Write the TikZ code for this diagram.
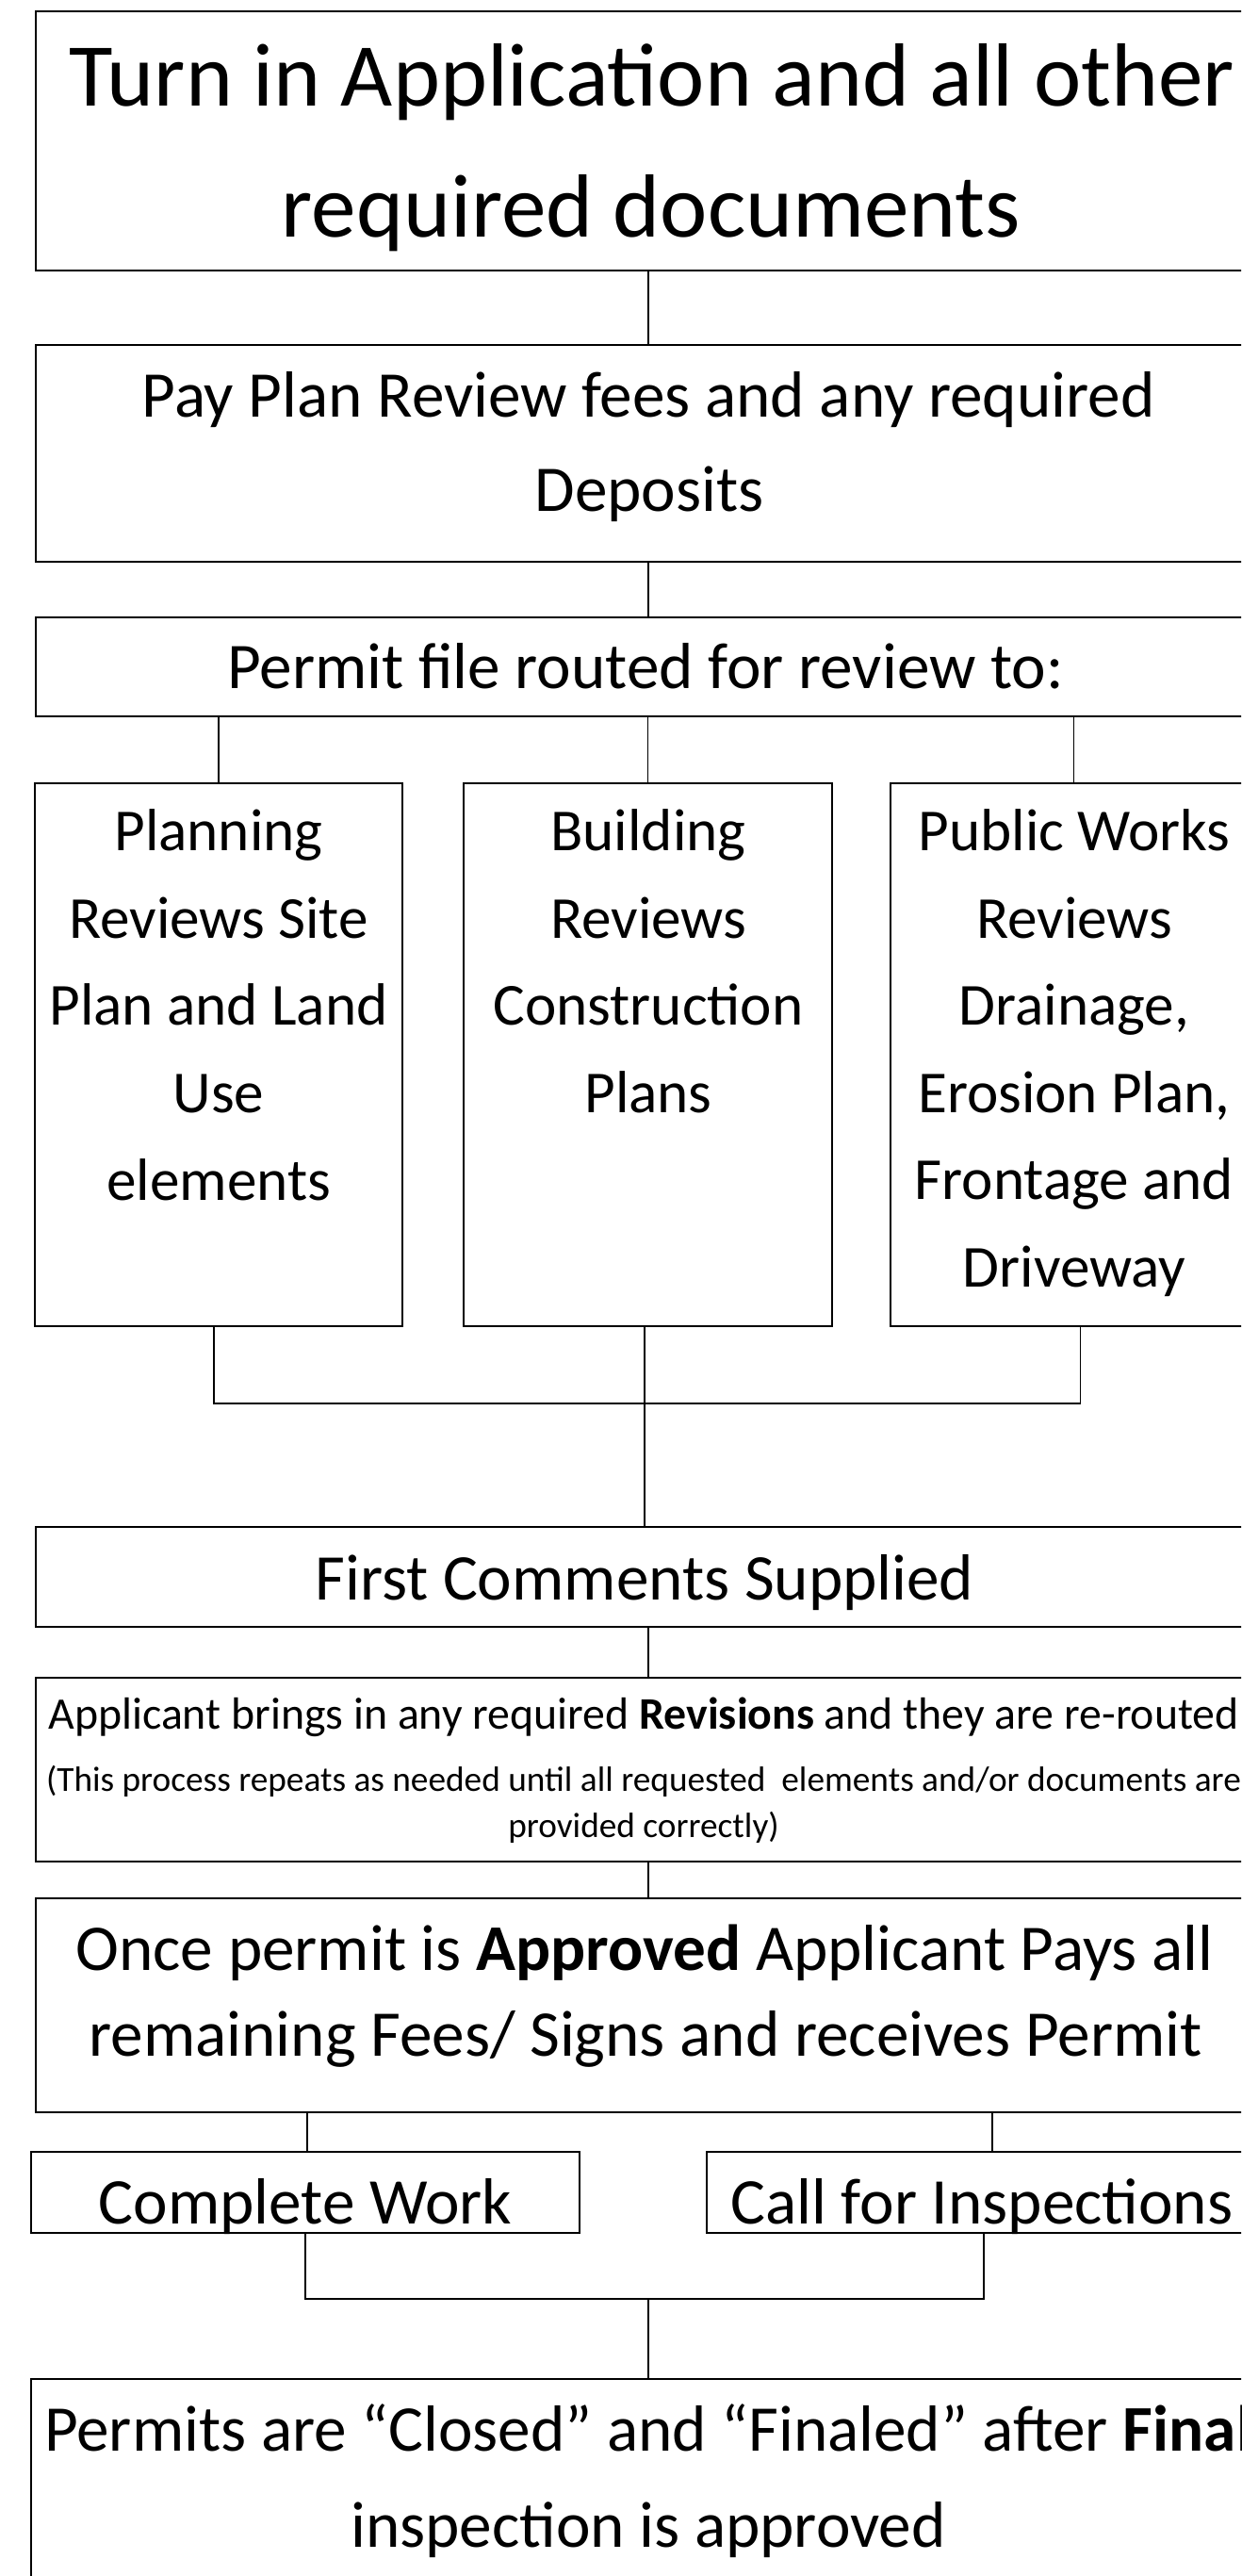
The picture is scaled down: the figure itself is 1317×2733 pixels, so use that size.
\documentclass[tikz,border=0pt]{standalone}
\usepackage{fontspec}
\setmainfont{Carlito}
\newcommand\flowbox[5]{%
  \node[fbox, minimum width={(#4-#2)*0.5pt}, minimum height={(#5-#3)*0.5pt}] (#1) at ({(#2+#4)/2},{(#3+#5)/2}) {};}
\begin{document}
\begin{tikzpicture}[x=0.5pt,y=-0.5pt,
  fbox/.style={draw, rectangle, line width=1.1pt, inner sep=0pt},
  conn/.style={line width=0.6pt},
  lbl/.style={inner sep=0pt, anchor=base},
  fhuge/.style={font=\fontsize{47.6}{58}\selectfont},
  fbig/.style={font=\fontsize{34.6}{41}\selectfont},
  fmid/.style={font=\fontsize{31.6}{38}\selectfont},
  fsmall/.style={font=\fontsize{23.9}{28}\selectfont},
  ftiny/.style={font=\fontsize{18.65}{22}\selectfont}]
\useasboundingbox (0,0) rectangle (1317,2733);
\fill[white] (0,0) rectangle (1317,2733);
\clip (0,0) rectangle (1317,2733);
% boxes
\flowbox{b1}{38}{12}{1338}{287}
\flowbox{b2}{38}{366}{1338}{596}
\flowbox{b3}{38}{655}{1338}{760}
\flowbox{bA}{37}{831}{427}{1407}
\flowbox{bB}{492}{831}{883}{1407}
\flowbox{bC}{945}{831}{1338}{1407}
\flowbox{bF}{38}{1620}{1338}{1726}
\flowbox{bR}{38}{1780}{1338}{1975}
\flowbox{bO}{38}{2014}{1338}{2241}
\flowbox{bW}{33}{2283}{615}{2369}
\flowbox{bI}{750}{2283}{1338}{2369}
\flowbox{bZ}{33}{2524}{1338}{2850}
\coordinate (j1) at (684,1489);
\coordinate (j2) at (688,2439);
% texts
\node[lbl,fhuge] (t1a) at (692,113) {Turn in Application and all other};
\node[lbl,fhuge] (t1b) at (691,251.5) {required documents};
\node[lbl,fbig] (t2a) at (688,443) {Pay Plan Review fees and any required};
\node[lbl,fbig] (t2b) at (689,543) {Deposits};
\node[lbl,fbig] (t3) at (685,730) {Permit file routed for review to:};
\node[lbl,fmid] (tA1) at (232,902) {Planning};
\node[lbl,fmid] (tA2) at (232,995) {Reviews Site};
\node[lbl,fmid] (tA3) at (232,1087) {Plan and Land};
\node[lbl,fmid] (tA4) at (232,1180) {Use};
\node[lbl,fmid] (tA5) at (232,1273) {elements};
\node[lbl,fmid] (tB1) at (688,902) {Building};
\node[lbl,fmid] (tB2) at (688,995) {Reviews};
\node[lbl,fmid] (tB3) at (688,1087) {Construction};
\node[lbl,fmid] (tB4) at (688,1180) {Plans};
\node[lbl,fmid] (tC1) at (1140,902) {Public Works};
\node[lbl,fmid] (tC2) at (1140,995) {Reviews};
\node[lbl,fmid] (tC3) at (1140,1087) {Drainage,};
\node[lbl,fmid] (tC4) at (1140,1180) {Erosion Plan,};
\node[lbl,fmid] (tC5) at (1140,1272) {Frontage and};
\node[lbl,fmid] (tC6) at (1140,1365) {Driveway};
\node[lbl,fbig] (tF) at (684,1697) {First Comments Supplied};
\node[lbl,fsmall] (tR1) at (683,1834) {Applicant brings in any required \textbf{Revisions} and they are re-routed};
\node[lbl,ftiny] (tR2) at (683,1900) {(This process repeats as needed until all requested~ elements and/or documents are};
\node[lbl,ftiny] (tR3) at (683,1949) {provided correctly)};
\node[lbl,fbig] (tO1) at (684,2090) {Once permit is \textbf{Approved} Applicant Pays all};
\node[lbl,fbig] (tO2) at (685,2181) {remaining Fees/ Signs and receives Permit};
\node[lbl,fbig] (tW) at (324,2359) {Complete Work};
\node[lbl,fbig] (tI) at (1042,2359) {Call for Inspections};
\node[lbl,fbig] (tZ1) at (688,2600) {Permits are “Closed” and “Finaled” after \textbf{Final}};
\node[lbl,fbig] (tZ2) at (688,2702) {inspection is approved};
% connectors
\draw[conn] (b1.south) -- (b2.north);
\draw[conn] (b2.south) -- (b3.north);
\draw[conn] (bA.north |- b3.south) -- (bA.north);
\draw[conn] (bB.north |- b3.south) -- (bB.north);
\draw[conn] ([xshift=-1pt]bC.north |- b3.south) -- ([xshift=-1pt]bC.north);
\draw[conn] ([xshift=-2.5pt]bA.south) -- ([xshift=-2.5pt]bA.south |- j1) -- ([xshift=2.5pt]bC.south |- j1) -- ([xshift=2.5pt]bC.south);
\draw[conn] (bB.south -| j1) -- (j1) -- (bF.north -| j1);
\draw[conn] (bF.south) -- (bR.north);
\draw[conn] (bR.south) -- (bO.north);
\draw[conn] ([xshift=1pt]bW.north |- bO.south) -- ([xshift=1pt]bW.north);
\draw[conn] ([xshift=4.5pt]bI.north |- bO.south) -- ([xshift=4.5pt]bI.north);
\draw[conn] (bW.south) -- (bW.south |- j2) -- (bI.south |- j2) -- (bI.south);
\draw[conn] (j2) -- (bZ.north -| j2);
\end{tikzpicture}
\end{document}
